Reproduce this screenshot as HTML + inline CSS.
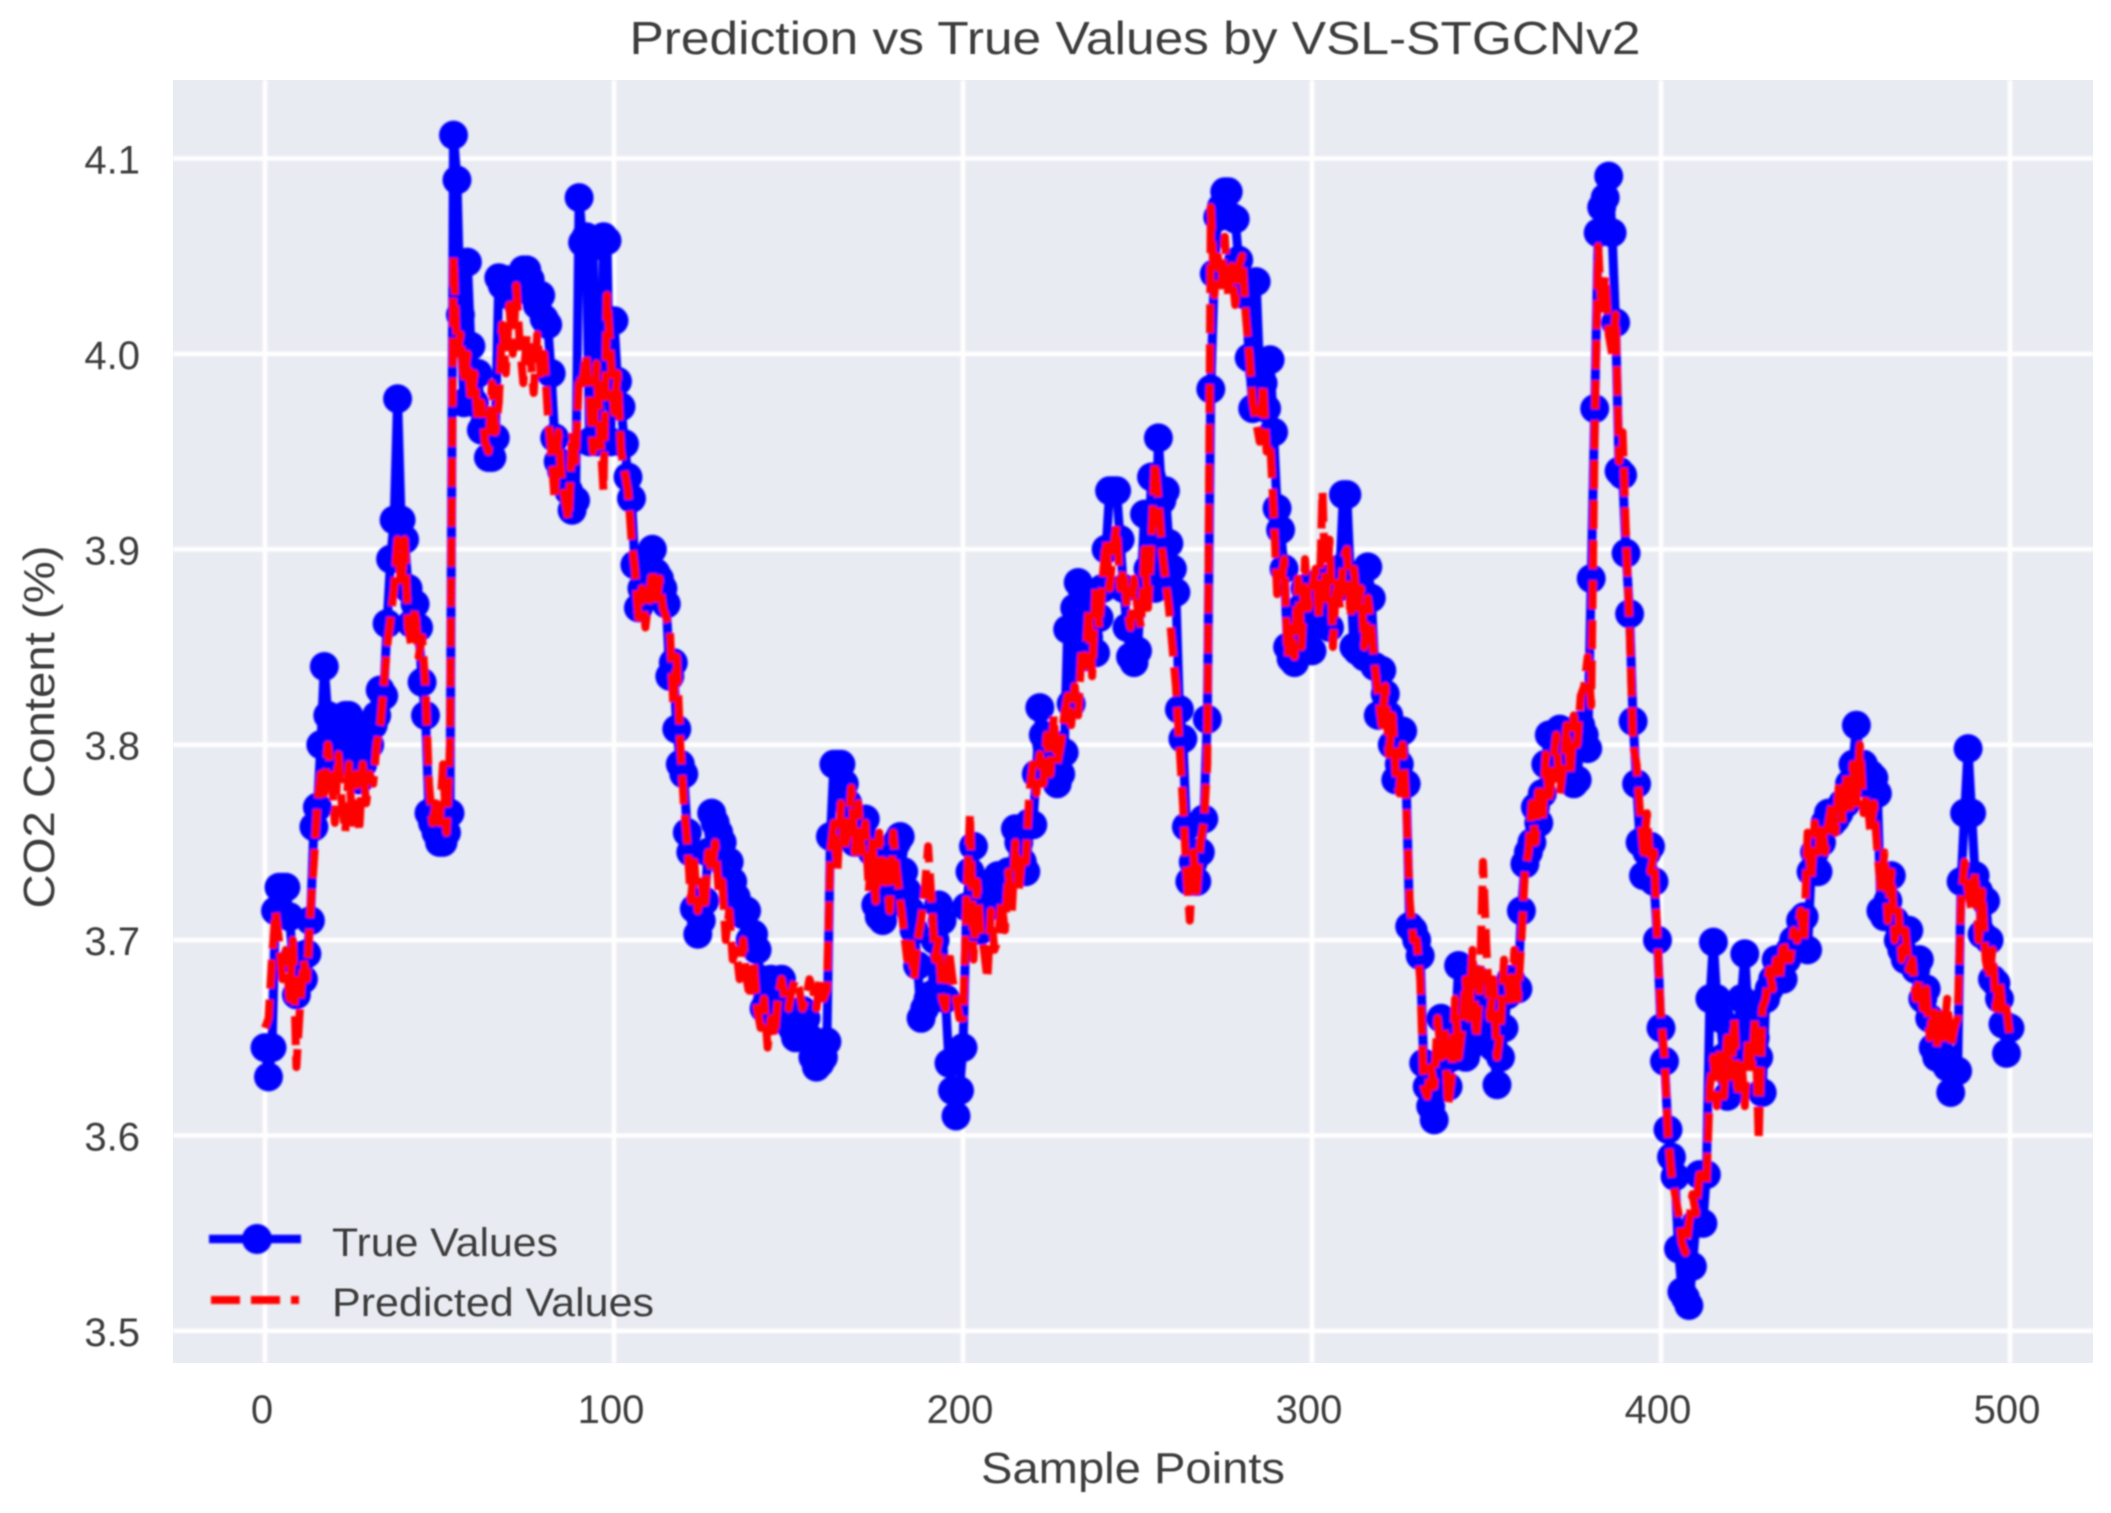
<!DOCTYPE html>
<html lang="en">
<head>
<meta charset="utf-8">
<title>Prediction vs True Values by VSL-STGCNv2</title>
<style>
html,body{margin:0;padding:0;background:#fff;width:2111px;height:1513px;overflow:hidden}
svg{display:block}
text{font-family:"Liberation Sans",Arial,sans-serif;fill:#3c3c3c}
</style>
</head>
<body>
<svg id="chart" xmlns="http://www.w3.org/2000/svg" width="2111" height="1513" viewBox="0 0 2111 1513">
  <defs>
    <filter id="soft" filterUnits="userSpaceOnUse" x="0" y="0" width="2111" height="1513"><feGaussianBlur stdDeviation="1.1"/></filter>
    <filter id="softText" filterUnits="userSpaceOnUse" x="0" y="0" width="2111" height="1513"><feGaussianBlur stdDeviation="0.8"/></filter>
  </defs>
  <rect x="173" y="80" width="1920" height="1283" fill="#e9ebf2"/>
  <g id="grid" filter="url(#soft)"></g>
  <g id="marks" filter="url(#soft)"></g>
  <g id="xticks" filter="url(#softText)"></g>
  <g id="yticks" filter="url(#softText)"></g>
  <g filter="url(#softText)">
    <text x="1135" y="54" font-size="46" text-anchor="middle" textLength="1011" lengthAdjust="spacingAndGlyphs">Prediction vs True Values by VSL-STGCNv2</text>
    <text x="1133" y="1483" font-size="44" text-anchor="middle" textLength="304" lengthAdjust="spacingAndGlyphs">Sample Points</text>
    <text transform="translate(54,727) rotate(-90)" font-size="44" text-anchor="middle" textLength="363" lengthAdjust="spacingAndGlyphs">CO2 Content (%)</text>
  </g>
  <g>
    <g filter="url(#soft)">
      <line x1="209" y1="1239" x2="301" y2="1239" stroke="#0000ff" stroke-width="8.5"/>
      <circle cx="257" cy="1239" r="15" fill="#0000ff"/>
    </g>
    <text x="332" y="1256" font-size="40" textLength="226" lengthAdjust="spacingAndGlyphs" filter="url(#softText)">True Values</text>
    <g filter="url(#soft)">
      <line x1="211" y1="1300" x2="299" y2="1300" stroke="#ff0000" stroke-width="8" stroke-dasharray="29 11"/>
    </g>
    <text x="332" y="1316" font-size="40" textLength="322" lengthAdjust="spacingAndGlyphs" filter="url(#softText)">Predicted Values</text>
  </g>
</svg>
<script>
const xTickValues = [0, 100, 200, 300, 400, 500];
const yTickValues = [3.5, 3.6, 3.7, 3.8, 3.9, 4.0, 4.1];
const yTickLabels = ["3.5", "3.6", "3.7", "3.8", "3.9", "4.0", "4.1"];
const trueValues = [
3.645,3.630,3.645,3.715,3.727,3.727,3.727,3.712,3.690,3.672,
3.692,3.680,3.693,3.710,3.758,3.768,3.800,3.840,3.815,3.800,
3.790,3.800,3.812,3.815,3.815,3.800,3.790,3.782,3.790,3.805,
3.800,3.810,3.815,3.828,3.825,3.862,3.895,3.915,3.977,3.915,
3.905,3.880,3.862,3.872,3.860,3.832,3.815,3.765,3.760,3.755,
3.750,3.750,3.755,3.765,4.112,4.089,4.020,3.975,4.047,4.004,
3.975,3.990,3.961,3.965,3.947,3.947,3.957,4.039,4.035,4.038,
4.030,4.035,4.038,4.040,4.043,4.043,4.038,4.030,4.025,4.030,
4.018,4.015,3.990,3.957,3.945,3.940,3.935,3.930,3.920,3.925,
4.080,4.057,4.060,3.955,4.055,3.955,3.955,4.060,4.058,3.955,
4.017,3.986,3.973,3.954,3.937,3.926,3.892,3.870,3.880,3.875,
3.897,3.900,3.888,3.885,3.880,3.872,3.835,3.842,3.808,3.790,
3.785,3.755,3.745,3.716,3.703,3.710,3.720,3.745,3.765,3.760,
3.755,3.750,3.738,3.740,3.730,3.722,3.715,3.713,3.715,3.700,
3.703,3.695,3.680,3.665,3.670,3.680,3.675,3.660,3.680,3.665,
3.660,3.655,3.650,3.655,3.664,3.660,3.650,3.640,3.635,3.637,
3.640,3.648,3.753,3.790,3.790,3.790,3.780,3.770,3.760,3.750,
3.760,3.755,3.762,3.750,3.745,3.718,3.712,3.710,3.718,3.730,
3.745,3.750,3.753,3.735,3.725,3.715,3.705,3.687,3.660,3.665,
3.670,3.672,3.700,3.718,3.710,3.670,3.637,3.623,3.610,3.623,
3.645,3.717,3.735,3.748,3.715,3.705,3.715,3.725,3.722,3.730,
3.733,3.725,3.732,3.735,3.735,3.757,3.750,3.740,3.735,3.760,
3.759,3.785,3.819,3.805,3.800,3.795,3.800,3.780,3.785,3.796,
3.859,3.821,3.870,3.883,3.880,3.845,3.855,3.875,3.847,3.865,
3.880,3.900,3.930,3.930,3.930,3.905,3.880,3.860,3.845,3.842,
3.848,3.880,3.918,3.890,3.937,3.880,3.957,3.925,3.930,3.903,
3.890,3.878,3.818,3.803,3.758,3.730,3.740,3.730,3.745,3.762,
3.813,3.982,4.041,4.070,4.075,4.083,4.083,4.070,4.069,4.048,
4.035,4.030,3.998,3.972,4.037,3.990,3.985,3.972,3.997,3.960,
3.921,3.910,3.890,3.850,3.844,3.842,3.860,3.870,3.880,3.850,
3.848,3.870,3.880,3.885,3.880,3.860,3.885,3.880,3.890,3.928,
3.928,3.885,3.850,3.848,3.880,3.845,3.891,3.875,3.840,3.815,
3.838,3.826,3.815,3.800,3.782,3.790,3.807,3.780,3.707,3.705,
3.700,3.692,3.637,3.625,3.615,3.608,3.630,3.660,3.640,3.625,
3.640,3.650,3.687,3.660,3.640,3.645,3.660,3.680,3.655,3.650,
3.665,3.670,3.645,3.626,3.640,3.655,3.672,3.680,3.675,3.675,
3.715,3.739,3.745,3.750,3.768,3.760,3.775,3.790,3.805,3.805,
3.800,3.808,3.795,3.790,3.785,3.780,3.782,3.810,3.805,3.798,
3.885,3.972,4.062,4.075,4.080,4.091,4.062,4.016,3.940,3.938,
3.898,3.867,3.812,3.780,3.750,3.733,3.745,3.748,3.730,3.700,
3.655,3.638,3.603,3.589,3.579,3.542,3.520,3.517,3.513,3.533,
3.555,3.580,3.555,3.580,3.670,3.699,3.670,3.660,3.640,3.620,
3.630,3.640,3.650,3.670,3.693,3.660,3.645,3.650,3.640,3.622,
3.670,3.675,3.680,3.690,3.685,3.680,3.690,3.695,3.700,3.700,
3.710,3.712,3.695,3.735,3.745,3.735,3.750,3.760,3.765,3.760,
3.762,3.765,3.770,3.770,3.780,3.790,3.810,3.790,3.790,3.780,
3.785,3.783,3.775,3.715,3.712,3.720,3.733,3.710,3.700,3.695,
3.690,3.705,3.690,3.685,3.690,3.670,3.675,3.660,3.645,3.640,
3.650,3.640,3.635,3.622,3.633,3.633,3.730,3.765,3.798,3.765,
3.733,3.725,3.703,3.720,3.700,3.680,3.678,3.670,3.657,3.642,3.655
];
const predictedValues = [
3.655,3.660,3.690,3.715,3.700,3.680,3.695,3.670,3.700,3.635,
3.665,3.690,3.680,3.715,3.740,3.770,3.785,3.775,3.800,3.785,
3.760,3.795,3.770,3.755,3.790,3.760,3.785,3.755,3.790,3.770,
3.785,3.780,3.800,3.810,3.830,3.850,3.865,3.880,3.905,3.880,
3.905,3.860,3.850,3.870,3.845,3.855,3.830,3.780,3.760,3.770,
3.760,3.790,3.755,3.800,4.050,4.000,4.010,3.985,4.000,3.975,
3.990,3.965,3.975,3.955,3.950,3.985,3.960,3.975,4.015,3.990,
4.025,4.000,4.035,4.005,3.985,4.010,4.000,3.980,4.010,3.990,
4.000,3.970,3.950,3.925,3.960,3.935,3.925,3.915,3.960,3.945,
3.990,3.985,4.000,3.975,3.950,3.995,3.960,3.930,4.030,4.000,
3.970,3.990,3.950,3.940,3.930,3.905,3.890,3.865,3.880,3.860,
3.875,3.890,3.870,3.885,3.870,3.865,3.860,3.820,3.845,3.800,
3.770,3.750,3.720,3.740,3.715,3.730,3.715,3.745,3.735,3.750,
3.725,3.730,3.700,3.715,3.690,3.695,3.680,3.700,3.680,3.670,
3.690,3.665,3.655,3.670,3.645,3.660,3.650,3.670,3.680,3.670,
3.665,3.675,3.680,3.675,3.665,3.670,3.680,3.675,3.665,3.680,
3.670,3.675,3.745,3.760,3.735,3.770,3.745,3.755,3.778,3.745,
3.770,3.745,3.760,3.725,3.750,3.720,3.755,3.730,3.740,3.715,
3.755,3.735,3.720,3.705,3.690,3.700,3.680,3.700,3.710,3.725,
3.748,3.720,3.690,3.700,3.670,3.665,3.695,3.680,3.670,3.660,
3.660,3.720,3.765,3.690,3.730,3.705,3.695,3.680,3.715,3.695,
3.700,3.720,3.705,3.735,3.715,3.750,3.725,3.745,3.740,3.775,
3.790,3.775,3.795,3.780,3.805,3.785,3.815,3.790,3.800,3.815,
3.825,3.810,3.830,3.815,3.850,3.840,3.870,3.835,3.880,3.860,
3.885,3.905,3.880,3.900,3.912,3.880,3.890,3.870,3.860,3.885,
3.870,3.860,3.900,3.870,3.905,3.945,3.925,3.900,3.885,3.870,
3.850,3.830,3.800,3.770,3.735,3.710,3.745,3.725,3.750,3.760,
3.790,4.075,4.030,4.050,4.035,4.060,4.030,4.045,4.025,4.045,
4.050,4.020,4.000,3.975,3.965,3.955,3.985,3.950,3.955,3.920,
3.877,3.880,3.895,3.845,3.860,3.845,3.885,3.850,3.895,3.870,
3.880,3.890,3.865,3.930,3.870,3.905,3.850,3.885,3.870,3.895,
3.900,3.865,3.890,3.870,3.880,3.850,3.875,3.860,3.840,3.825,
3.810,3.830,3.795,3.815,3.785,3.775,3.800,3.770,3.720,3.700,
3.700,3.680,3.625,3.620,3.635,3.625,3.660,3.640,3.655,3.615,
3.630,3.670,3.640,3.655,3.680,3.660,3.695,3.650,3.670,3.740,
3.695,3.660,3.680,3.640,3.655,3.690,3.680,3.665,3.695,3.670,
3.700,3.735,3.745,3.770,3.750,3.780,3.760,3.795,3.770,3.790,
3.805,3.775,3.790,3.810,3.785,3.815,3.800,3.825,3.830,3.845,
3.820,3.960,4.055,4.020,4.040,4.010,4.000,4.020,3.945,3.960,
3.905,3.860,3.800,3.790,3.765,3.745,3.765,3.735,3.745,3.700,
3.660,3.640,3.600,3.580,3.570,3.560,3.545,3.540,3.555,3.570,
3.560,3.580,3.580,3.575,3.625,3.640,3.615,3.645,3.620,3.650,
3.630,3.660,3.620,3.640,3.615,3.650,3.635,3.660,3.597,3.665,
3.670,3.685,3.675,3.690,3.680,3.700,3.690,3.690,3.705,3.700,
3.715,3.700,3.755,3.730,3.760,3.745,3.760,3.745,3.760,3.770,
3.755,3.780,3.760,3.785,3.765,3.790,3.770,3.800,3.765,3.775,
3.755,3.770,3.745,3.725,3.745,3.710,3.735,3.700,3.715,3.690,
3.705,3.685,3.690,3.670,3.680,3.665,3.675,3.650,3.665,3.645,
3.665,3.650,3.670,3.645,3.655,3.660,3.720,3.740,3.725,3.715,
3.735,3.700,3.725,3.690,3.680,3.695,3.665,3.680,3.660,3.665,3.650
];

const NS = "http://www.w3.org/2000/svg";
function xScale(i) { return 265 + (i / 100) * 349; }
function yScale(v) { return 158.5 + (4.1 - v) * 1954; }

const gridGroup = document.getElementById("grid");
const marksGroup = document.getElementById("marks");
const xTickGroup = document.getElementById("xticks");
const yTickGroup = document.getElementById("yticks");

xTickValues.forEach(function (t) {
  const gridLine = document.createElementNS(NS, "line");
  
  
  gridLine.setAttribute("x1", xScale(t));
  gridLine.setAttribute("x2", xScale(t));
  gridLine.setAttribute("y1", 80);
  gridLine.setAttribute("y2", 1363);
  gridLine.setAttribute("stroke", "#ffffff");
  gridLine.setAttribute("stroke-width", 4.5);
  gridGroup.appendChild(gridLine);
  const label = document.createElementNS(NS, "text");
  
  
  label.setAttribute("x", xScale(t) - 3);
  label.setAttribute("y", 1423);
  label.setAttribute("font-size", 40);
  label.setAttribute("text-anchor", "middle");
  label.textContent = String(t);
  xTickGroup.appendChild(label);
});

yTickValues.forEach(function (t, k) {
  const gridLine = document.createElementNS(NS, "line");
  
  
  gridLine.setAttribute("x1", 173);
  gridLine.setAttribute("x2", 2093);
  gridLine.setAttribute("y1", yScale(t));
  gridLine.setAttribute("y2", yScale(t));
  gridLine.setAttribute("stroke", "#ffffff");
  gridLine.setAttribute("stroke-width", 4.5);
  gridGroup.appendChild(gridLine);
  const label = document.createElementNS(NS, "text");
  
  
  label.setAttribute("x", 140);
  label.setAttribute("y", yScale(t) + 15);
  label.setAttribute("font-size", 40);
  label.setAttribute("text-anchor", "end");
  label.textContent = yTickLabels[k];
  yTickGroup.appendChild(label);
});

function seriesPoints(values) {
  return values.map(function (v, i) {
    return xScale(i).toFixed(1) + "," + yScale(v).toFixed(1);
  }).join(" ");
}

const trueLine = document.createElementNS(NS, "polyline");


trueLine.setAttribute("points", seriesPoints(trueValues));
trueLine.setAttribute("fill", "none");
trueLine.setAttribute("stroke", "#0000ff");
trueLine.setAttribute("stroke-width", 9);
trueLine.setAttribute("stroke-linejoin", "round");
marksGroup.appendChild(trueLine);

trueValues.forEach(function (v, i) {
  const dot = document.createElementNS(NS, "circle");
  
  
  dot.setAttribute("cx", xScale(i).toFixed(1));
  dot.setAttribute("cy", yScale(v).toFixed(1));
  dot.setAttribute("r", 14.5);
  dot.setAttribute("fill", "#0000ff");
  marksGroup.appendChild(dot);
});

const predictedLine = document.createElementNS(NS, "polyline");


predictedLine.setAttribute("points", seriesPoints(predictedValues));
predictedLine.setAttribute("fill", "none");
predictedLine.setAttribute("stroke", "#ff0000");
predictedLine.setAttribute("stroke-width", 8);
predictedLine.setAttribute("stroke-dasharray", "29 11");
predictedLine.setAttribute("stroke-linejoin", "round");
marksGroup.appendChild(predictedLine);
</script>
</body>
</html>
